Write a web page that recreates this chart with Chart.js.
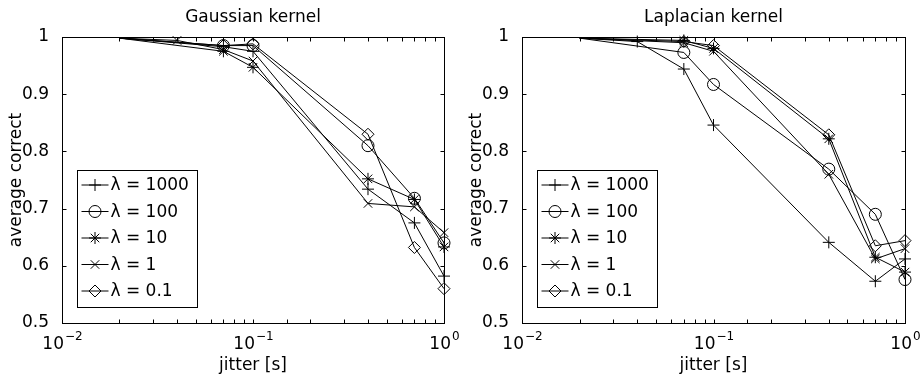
<!DOCTYPE html>
<html>
<head>
<meta charset="utf-8">
<script src="https://cdn.jsdelivr.net/npm/chart.js@4/dist/chart.umd.min.js"></script>
<style>
  html, body { margin: 0; padding: 0; background: #fff; }
  #wrap { position: relative; width: 921px; height: 376px; }
  canvas { position: absolute; top: 0; }
  #gauss { left: 0; }
  #lap { left: 460px; }
</style>
</head>
<body>
<div id="wrap">
  <canvas id="gauss" width="460" height="376"></canvas>
  <canvas id="lap" width="461" height="376"></canvas>
</div>
<script>
// series names and markers (lambda values)
const labels = ['λ = 1000', 'λ = 100', 'λ = 10', 'λ = 1', 'λ = 0.1'];
const markers = ['cross', 'circle', 'star', 'crossRot', 'rectRot'];
const markerSize = [6, 6, 6, 6, 6];
const yTicks = [0.5, 0.6, 0.7, 0.8, 0.9, 1];

// Gaussian kernel: jitter [s] and average correct per lambda
const gaussJitter = [
  [0.02, 0.07, 0.1, 0.4, 0.7, 1],
  [0.02, 0.07, 0.1, 0.4, 0.7, 1],
  [0.02, 0.07, 0.1, 0.4, 0.7, 1],
  [0.02, 0.04, 0.07, 0.1, 0.4, 0.7, 1],
  [0.02, 0.07, 0.1, 0.4, 0.7, 1]
];
const gaussCorrect = [
  [0.998, 0.983, 0.975, 0.734, 0.675, 0.582],
  [0.998, 0.985, 0.985, 0.810, 0.718, 0.640],
  [0.998, 0.975, 0.947, 0.752, 0.716, 0.633],
  [0.998, 0.994, 0.978, 0.958, 0.709, 0.703, 0.658],
  [0.998, 0.985, 0.988, 0.830, 0.632, 0.560]
];

// Laplacian kernel
const lapJitter = [
  [0.02, 0.04, 0.07, 0.1, 0.4, 0.7, 1],
  [0.02, 0.07, 0.1, 0.4, 0.7, 1],
  [0.02, 0.07, 0.1, 0.4, 0.7, 1],
  [0.02, 0.07, 0.1, 0.4, 0.7, 1],
  [0.02, 0.07, 0.1, 0.4, 0.7, 1]
];
const lapCorrect = [
  [0.998, 0.992, 0.944, 0.846, 0.641, 0.573, 0.612],
  [0.998, 0.973, 0.917, 0.769, 0.690, 0.576],
  [0.998, 0.994, 0.980, 0.822, 0.615, 0.589],
  [0.998, 0.990, 0.975, 0.760, 0.612, 0.630],
  [0.998, 0.992, 0.985, 0.829, 0.635, 0.644]
];

const FONT = '"DejaVu Sans", sans-serif';
Chart.defaults.font.family = FONT;

// matlab-like frame, inward ticks, titles, legend
const matlabPlugin = {
  id: 'matlab',
  afterDraw(chart, args, opts) {
    const ctx = chart.ctx;
    const ca = chart.chartArea;
    const xs = chart.scales.x, ys = chart.scales.y;
    const L = Math.round(ca.left) + 0.5, R = Math.round(ca.right) + 0.5;
    const T = Math.round(ca.top) + 0.5, B = Math.round(ca.bottom) + 0.5;
    const cx = (ca.left + ca.right) / 2;
    ctx.save();
    ctx.strokeStyle = '#000';
    ctx.lineWidth = 1;
    ctx.strokeRect(L, T, R - L, B - T);

    // ticks pointing inward
    ctx.beginPath();
    xs.ticks.forEach(t => {
      const px = Math.round(xs.getPixelForValue(t.value)) + 0.5;
      ctx.moveTo(px, B); ctx.lineTo(px, B - 4);
      ctx.moveTo(px, T); ctx.lineTo(px, T + 4);
    });
    ys.ticks.forEach(t => {
      const py = Math.round(ys.getPixelForValue(t.value)) + 0.5;
      ctx.moveTo(L, py); ctx.lineTo(L + 4, py);
      ctx.moveTo(R, py); ctx.lineTo(R - 4, py);
    });
    ctx.stroke();

    ctx.fillStyle = '#000';
    // x tick labels as 10^n
    xs.ticks.forEach(t => {
      const e = Math.round(Math.log10(t.value));
      if (Math.abs(Math.log10(t.value) - e) > 1e-6) return;
      const base = '10';
      const sup = e < 0 ? '\u2212' + (-e) : String(e);
      ctx.font = '17px ' + FONT;
      const w1 = ctx.measureText(base).width;
      ctx.font = '12px ' + FONT;
      const w2 = ctx.measureText(sup).width;
      const x0 = xs.getPixelForValue(t.value) - (w1 + w2) / 2;
      ctx.textAlign = 'left';
      ctx.textBaseline = 'alphabetic';
      ctx.font = '17px ' + FONT;
      ctx.fillText(base, x0, 349);
      ctx.font = '12px ' + FONT;
      ctx.fillText(sup, x0 + w1 + 1, 340);
    });

    // title and axis labels
    ctx.font = '17px ' + FONT;
    ctx.textAlign = 'center';
    ctx.textBaseline = 'alphabetic';
    ctx.fillText(opts.title, cx, 22);
    ctx.fillText('jitter [s]', cx, 370);
    ctx.save();
    ctx.translate(ca.left - 45, (ca.top + ca.bottom) / 2);
    ctx.rotate(-Math.PI / 2);
    ctx.textBaseline = 'middle';
    ctx.fillText('average correct', 0, 0);
    ctx.restore();

    // legend box inside the axes
    const bx = Math.round(ca.left) + 15.5, by = 170.5, bw = 120, bh = 137;
    ctx.fillStyle = '#fff';
    ctx.fillRect(bx, by, bw, bh);
    ctx.strokeRect(bx, by, bw, bh);
    chart.data.datasets.forEach((ds, i) => {
      const ry = by + 14.5 + i * 26.5;
      ctx.beginPath();
      ctx.moveTo(bx + 4, ry); ctx.lineTo(bx + 31, ry);
      ctx.stroke();
      ctx.fillStyle = 'rgba(0,0,0,0)';
      Chart.helpers.drawPoint(ctx, {
        pointStyle: ds.pointStyle, radius: markerSize[i], rotation: 0, borderWidth: 1
      }, bx + 17.5, ry);
      ctx.fillStyle = '#000';
      ctx.textAlign = 'left';
      ctx.textBaseline = 'middle';
      ctx.font = '17px ' + FONT;
      ctx.fillText(ds.label, bx + 33, ry + 1);
    });
    ctx.restore();
  }
};

function makeChart(id, title, jitter, correct, area) {
  const canvas = document.getElementById(id);
  const W = canvas.width, H = canvas.height;
  const datasets = labels.map((lab, i) => ({
    label: lab,
    data: jitter[i].map((x, j) => ({ x: x, y: correct[i][j] })),
    borderColor: '#000',
    borderWidth: 1,
    pointStyle: markers[i],
    pointRadius: c => (c.raw && c.raw.x === 0.02) ? 0 : markerSize[i],
    pointHoverRadius: c => (c.raw && c.raw.x === 0.02) ? 0 : markerSize[i],
    pointBorderColor: '#000',
    pointBackgroundColor: 'rgba(0,0,0,0)',
    pointBorderWidth: 1,
    fill: false,
    tension: 0,
    clip: false
  }));

  return new Chart(canvas, {
    type: 'line',
    data: { datasets: datasets },
    options: {
      responsive: false,
      animation: false,
      events: [],
      layout: { padding: { left: 0, right: W - area.right, top: area.top, bottom: 0 } },
      plugins: {
        legend: { display: false },
        tooltip: { enabled: false },
        matlab: { title: title }
      },
      scales: {
        x: {
          type: 'logarithmic',
          min: 0.01,
          max: 1,
          grid: { display: false },
          border: { display: false },
          ticks: { display: false, autoSkip: false },
          afterFit: s => { s.height = H - area.bottom; }
        },
        y: {
          type: 'linear',
          min: 0.5,
          max: 1,
          grid: { display: false },
          border: { display: false },
          afterBuildTicks: s => { s.ticks = yTicks.map(v => ({ value: v })); },
          ticks: {
            color: '#000',
            padding: 5,
            font: { size: 17, family: FONT },
            callback: v => Math.abs(v - 1) < 1e-9 ? '1' : v.toFixed(1)
          },
          afterFit: s => { s.width = area.left; }
        }
      }
    },
    plugins: [matlabPlugin]
  });
}

makeChart('gauss', 'Gaussian kernel', gaussJitter, gaussCorrect, { left: 62, right: 444, top: 37, bottom: 323 });
makeChart('lap', 'Laplacian kernel', lapJitter, lapCorrect, { left: 62, right: 445, top: 37, bottom: 323 });
</script>
</body>
</html>
